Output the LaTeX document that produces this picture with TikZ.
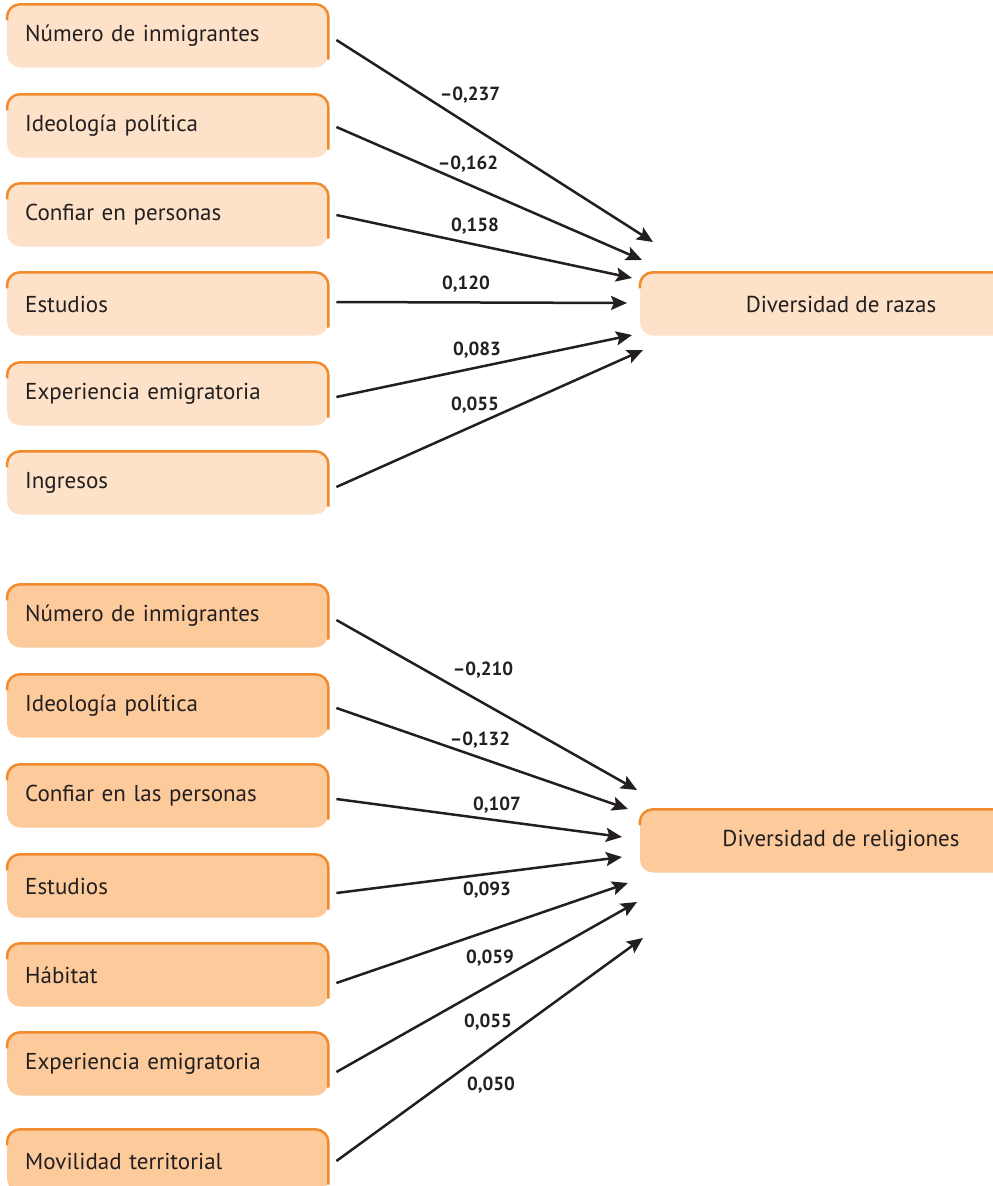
\documentclass[tikz,border=0pt]{standalone}
\usepackage{fontspec}
\setmainfont{PT Sans}
\usetikzlibrary{arrows.meta,positioning}
\definecolor{paleorange}{HTML}{FDE1C8}
\definecolor{midorange}{HTML}{FCCA9B}
\definecolor{rimorange}{HTML}{F18A2C}
\definecolor{inkgray}{HTML}{231F20}

\begin{document}
\begin{tikzpicture}[x=1pt,y=-1pt,
  every node/.style={font=\fontsize{23}{27}\selectfont, text=inkgray},
  box/.style={rounded corners=13pt, minimum height=63pt, inner sep=0pt},
  srcbox/.style={box, anchor=west, minimum width=321pt, text width=285pt, align=left},
  sinkbox/.style={box, minimum width=402pt, align=center},
  toptone/.style={fill=paleorange},
  lowtone/.style={fill=midorange},
  rim/.style={draw=rimorange, line width=2.5pt, rounded corners=13pt},
  arr/.style={-{Stealth[length=16pt,width=14pt,inset=3pt]}, line width=2.5pt, inkgray},
  val/.style={font=\fontsize{19}{21}\selectfont\bfseries}
]
\useasboundingbox (0,0) rectangle (993,1186);

% upper block: diversidad de razas
\node[srcbox, toptone] (t1) at (7,36)  {Número de inmigrantes};
\node[srcbox, toptone] (t2) at (7,126) {Ideología política};
\node[srcbox, toptone] (t3) at (7,215) {Confiar en personas};
\node[srcbox, toptone] (t4) at (7,304) {Estudios};
\node[srcbox, toptone] (t5) at (7,394) {Experiencia emigratoria};
\node[srcbox, toptone] (t6) at (7,483) {Ingresos};
\node[sinkbox, toptone] (razas) at (841,304) {Diversidad de razas};

% lower block: diversidad de religiones
\node[srcbox, lowtone] (b1) at (7,616)  {Número de inmigrantes};
\node[srcbox, lowtone] (b2) at (7,706)  {Ideología política};
\node[srcbox, lowtone] (b3) at (7,796)  {Confiar en las personas};
\node[srcbox, lowtone] (b4) at (7,886)  {Estudios};
\node[srcbox, lowtone] (b5) at (7,975)  {Hábitat};
\node[srcbox, lowtone] (b6) at (7,1064) {Experiencia emigratoria};
\node[srcbox, lowtone] (b7) at (7,1161) {Movilidad territorial};
\node[sinkbox, lowtone] (relig) at (841,841) {Diversidad de religiones};

\foreach \n in {t1,t2,t3,t4,t5,t6,razas,b1,b2,b3,b4,b5,b6,b7,relig}
  \draw[rim] ([yshift=-16pt]\n.north west) -- (\n.north west)
    -- (\n.north east) -- ([yshift=8pt]\n.south east);

% arrow heads end near the targets
\coordinate (r1) at (653,242);
\coordinate (r2) at (642,260);
\coordinate (r3) at (632,278);
\coordinate (r4) at (627,303);
\coordinate (r5) at (632,335);
\coordinate (r6) at (643,350);

\coordinate (g1) at (637,790);
\coordinate (g2) at (628,809);
\coordinate (g3) at (622,837);
\coordinate (g4) at (622,857);
\coordinate (g5) at (628,883);
\coordinate (g6) at (637,902);
\coordinate (g7) at (643,938);

\foreach \i/\dy in {1/-4,2/-1,3/0,4/2,5/-3,6/-4}
  \draw[arr] ([xshift=8pt,yshift=\dy pt]t\i.east) -- (r\i);
\foreach \i/\dy in {1/-4,2/-2,3/-3,4/-7,5/-8,6/-8,7/0}
  \draw[arr] ([xshift=8pt,yshift=\dy pt]b\i.east) -- (g\i);

\node[val] (v1) at (470,95)  {\textendash0,237};
\node[val] (v2) at (468,164) {\textendash0,162};
\node[val] (v3) at (475,226) {0,158};
\node[val] (v4) at (466,284) {0,120};
\node[val] (v5) at (477,350) {0,083};
\node[val] (v6) at (475,405) {0,055};

\node[val] (w1) at (483,670)  {\textendash0,210};
\node[val] (w2) at (480,740)  {\textendash0,132};
\node[val] (w3) at (497,805)  {0,107};
\node[val] (w4) at (487,890)  {0,093};
\node[val] (w5) at (490,958)  {0,059};
\node[val] (w6) at (488,1022) {0,055};
\node[val] (w7) at (491,1085) {0,050};
\end{tikzpicture}
\end{document}
